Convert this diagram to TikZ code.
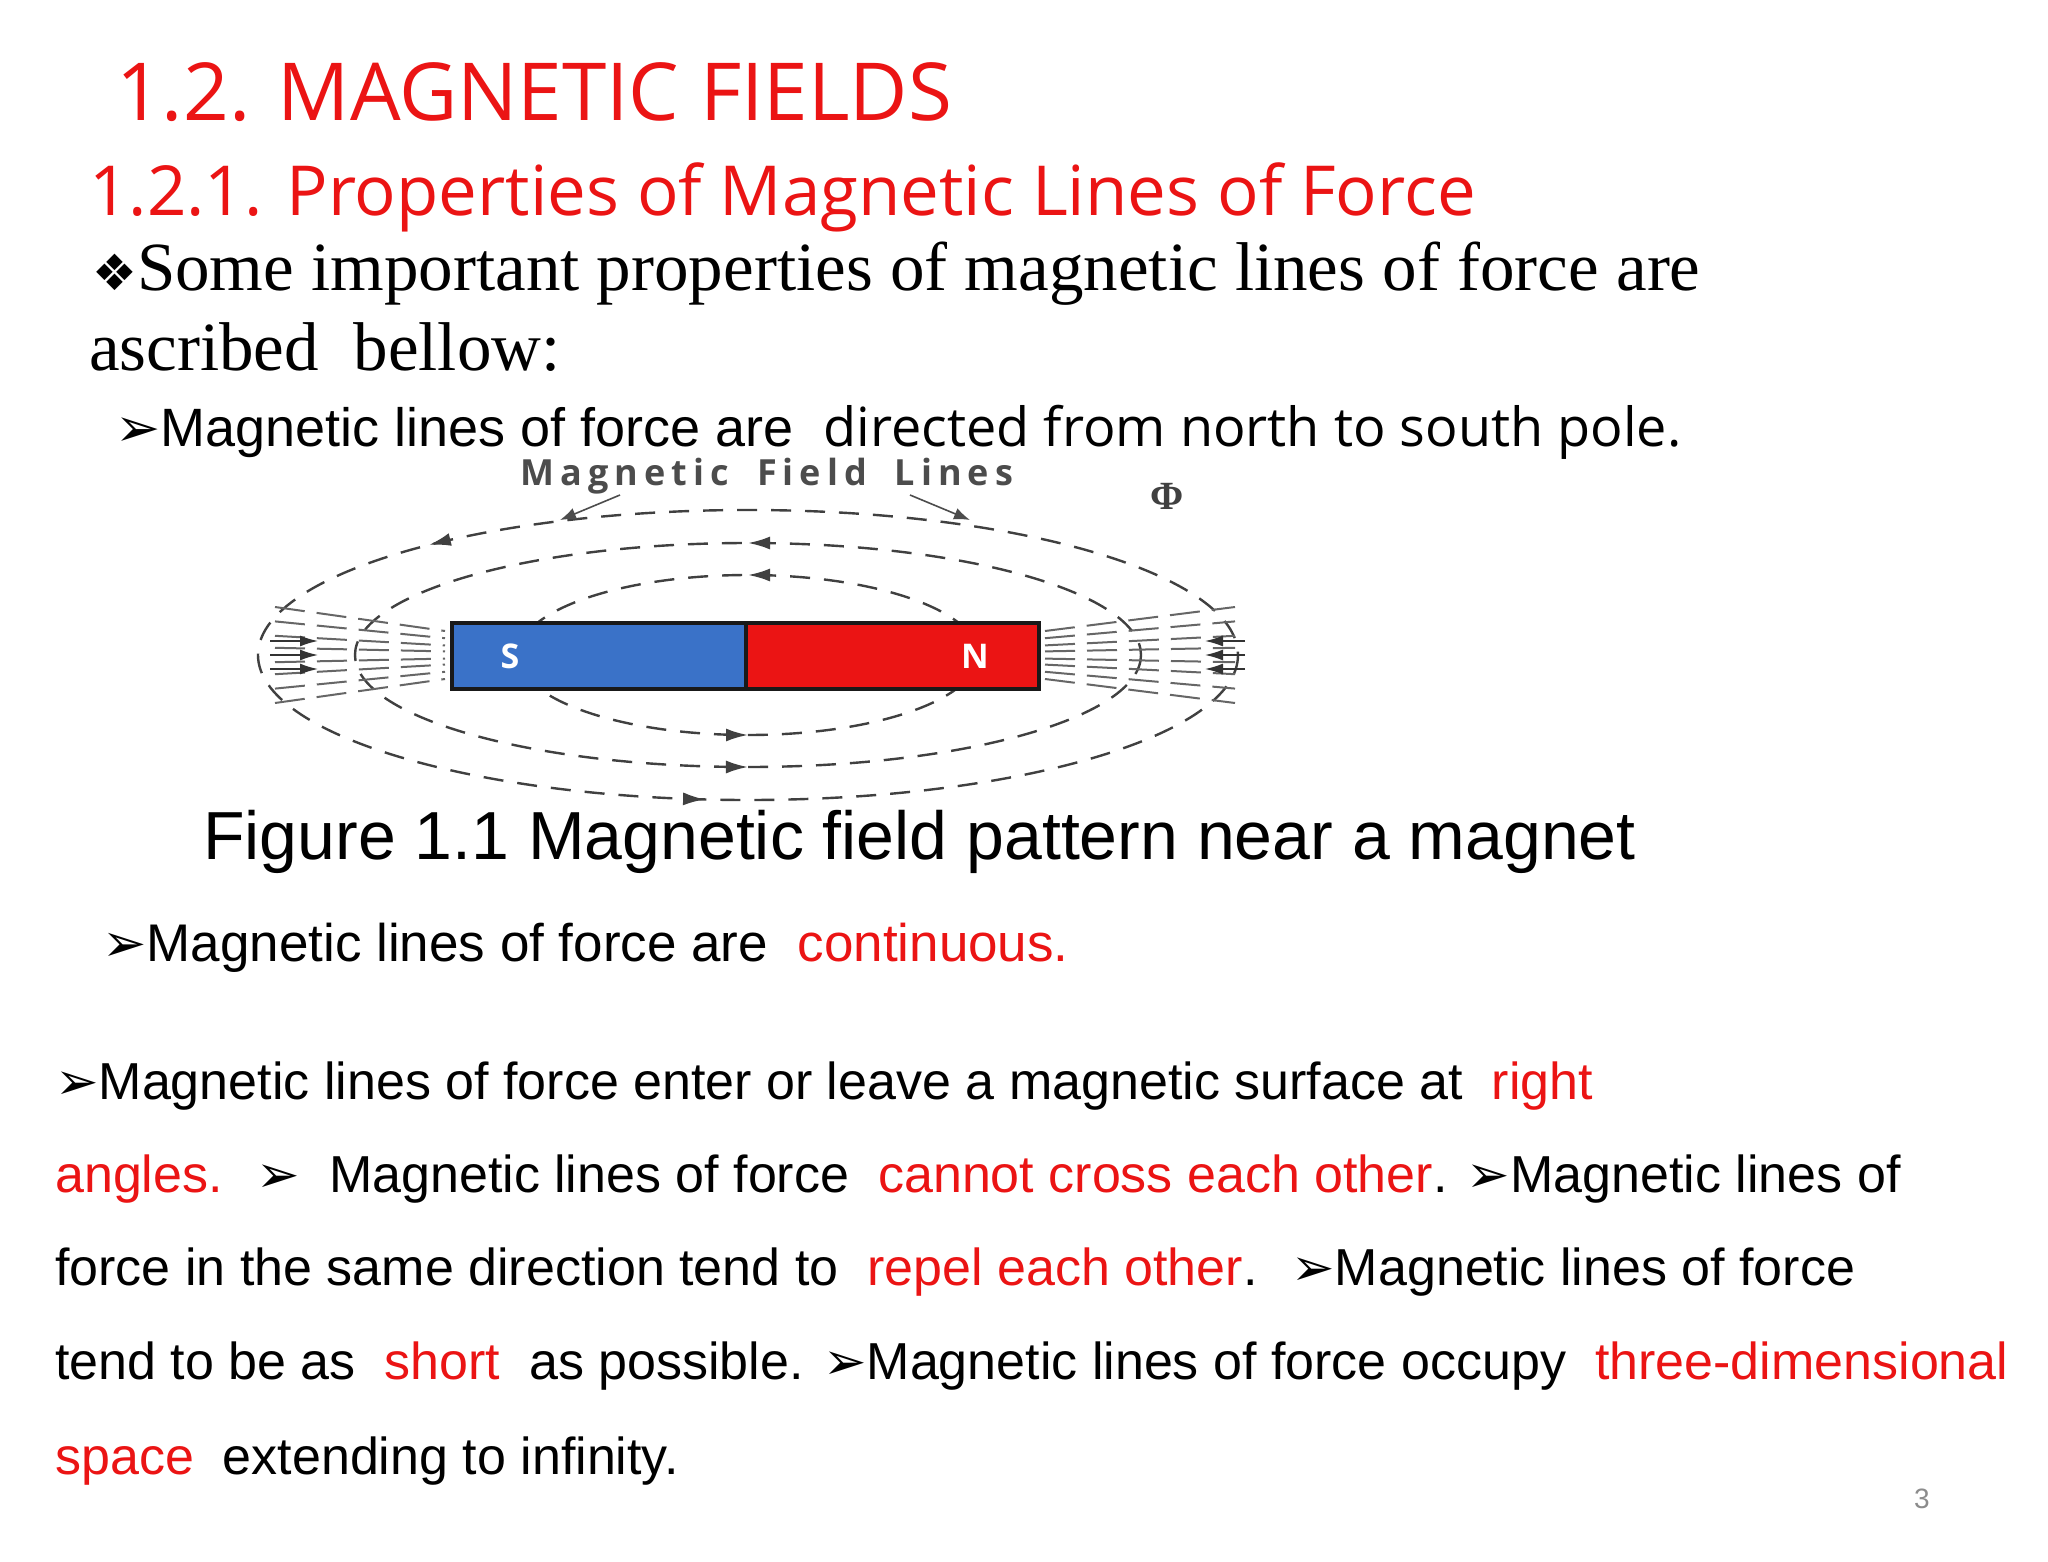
\documentclass[tikz,border=0pt]{standalone}
\usepackage{fontspec}
\setmainfont{Liberation Sans}
\newfontfamily\osans{Open Sans}
\newfontfamily\tserif{Liberation Serif}
\newfontfamily\dvs{DejaVu Sans}
\newfontfamily\arial{Liberation Sans}
\usetikzlibrary{decorations.markings,arrows.meta}
\definecolor{tred}{RGB}{235,20,20}
\definecolor{sblue}{RGB}{58,114,200}
\newcommand{\rd}[1]{\textcolor{tred}{#1}}
\newcommand{\arr}{{\dvs\char"27A2}}
\begin{document}
\begin{tikzpicture}[x=1pt,y=-1pt,
  txt/.style={anchor=base west,inner sep=0pt},
  fld/.style={dash pattern=on 20pt off 14pt,line width=2.4pt,black!75},
  mk/.style={postaction={decorate,decoration={markings,mark=at position #1 with {\arrowreversed{Latex[length=22pt,width=13pt]}}}}},
  endl/.style={line width=2pt,black!60,dash pattern=on 30pt off 12pt}]
\useasboundingbox (0,0) rectangle (2048,1562);
\fill[white] (0,0) rectangle (2048,1562);
\node[txt,text=tred,font=\osans\fontsize{80}{90}\selectfont] (title) at (116,121) {1.2. MAGNETIC FIELDS};
\node[txt,text=tred,font=\osans\fontsize{69}{80}\selectfont] (sub) at (89,216) {1.2.1. Properties of Magnetic Lines of Force};
\node[txt,font=\tserif\fontsize{69}{76}\selectfont] (l1) at (92,291) {{\dvs\fontsize{50}{50}\selectfont\char"2756}Some important properties of magnetic lines of force are};
\node[txt,font=\tserif\fontsize{69}{76}\selectfont] (l2) at (89,370) {ascribed\ \ bellow:};
\node[txt,font=\arial\fontsize{54}{60}\selectfont] (l3) at (115,446) {\arr Magnetic lines of force are \ {\osans directed from north to south pole.}};
% figure
\node[font=\osans\bfseries\fontsize{36}{36}\selectfont,text=black!70] (fl) at (767,476) {M\,a\,g\,n\,e\,t\,i\,c\ \ \ F\,i\,e\,l\,d\ \ \ L\,i\,n\,e\,s};
\node[font=\tserif\bfseries\fontsize{40}{40}\selectfont,text=black!75] (phi) at (1167,496) {\char"03A6};
\draw[fld,mk=0.27,mk=0.6] (748,655) ellipse [x radius=490,y radius=145];
\draw[fld,mk=0.25,mk=0.75] (748,655) ellipse [x radius=393,y radius=112];
\draw[fld,mk=0.25,mk=0.75] (748,655) ellipse [x radius=230,y radius=80];
\draw[black!70,line width=1.6pt,-{Latex[length=16pt]}] (620,495) -- (560,520);
\draw[black!70,line width=1.6pt,-{Latex[length=16pt]}] (910,495) -- (970,520);
\foreach \dy in {-40,-28,-16,-6,6,16,28,40}{
  \draw[endl] (275,655+\dy*1.2) -- (445,655+\dy*0.6);
  \draw[endl] (1045,655+\dy*0.6) -- (1235,655+\dy*1.2);
}
\foreach \dy in {-14,0,14}{
  \draw[black!80,line width=1.6pt,-{Latex[length=18pt,width=11pt]}] (270,655+\dy) -- (318,655+\dy);
  \draw[black!80,line width=1.6pt,-{Latex[length=18pt,width=11pt]}] (1245,655+\dy) -- (1205,655+\dy);
}
\fill[sblue] (452,623) rectangle (746,689);
\fill[tred] (746,623) rectangle (1039,689);
\node[draw=black!90,line width=4pt,minimum width=587pt,minimum height=66pt,inner sep=0pt] (mag) at (745.5,656) {};
\draw[black!90,line width=4pt] (mag.north) -- (mag.south);
\node[text=white,font=\osans\bfseries\fontsize{34}{34}\selectfont] (sl) at (510,656) {S};
\node[text=white,font=\osans\bfseries\fontsize{34}{34}\selectfont] (nl) at (975,656) {N};
\node[txt,font=\arial\fontsize{68}{76}\selectfont] (cap) at (203,859) {Figure 1.1 Magnetic field pattern near a magnet};
\node[txt,font=\arial\fontsize{53}{60}\selectfont] (l4) at (102,961) {\arr Magnetic lines of force are \ \rd{continuous.}};
\begin{scope}[every node/.style={txt,font=\arial\fontsize{52}{60}\selectfont}]
\node (p1) at (55,1099) {\arr Magnetic lines of force enter or leave a magnetic surface at \ \rd{right}};
\node (p2) at (55,1192) {\rd{angles.} \ \arr\ \ Magnetic lines of force \ \rd{cannot cross each other}. \arr Magnetic lines of};
\node (p3) at (55,1285) {force in the same direction tend to \ \rd{repel each other}. \ \arr Magnetic lines of force};
\node (p4) at (55,1379) {tend to be as \ \rd{short} \ as possible. \arr Magnetic lines of force occupy \ \rd{three-dimensional}};
\node (p5) at (55,1474) {\rd{space} \ extending to infinity.};
\end{scope}
\node[txt,text=black!45,font=\arial\fontsize{28}{30}\selectfont] (pg) at (1914,1508) {3};
\end{tikzpicture}
\end{document}
